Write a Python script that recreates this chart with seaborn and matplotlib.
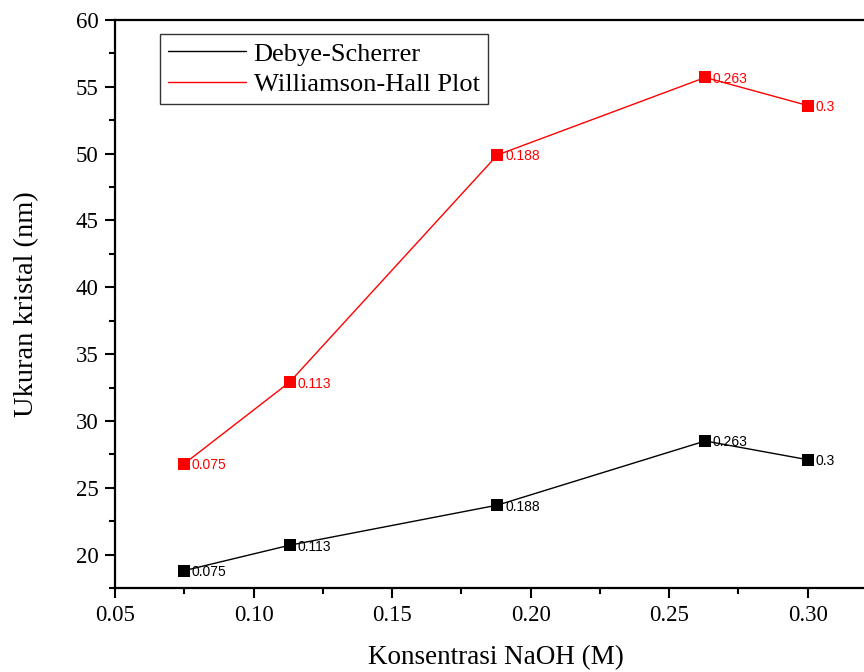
import matplotlib
matplotlib.use("Agg")
import matplotlib.pyplot as plt
import seaborn as sns
import pandas as pd
from matplotlib.ticker import MultipleLocator
from matplotlib.lines import Line2D
from matplotlib.legend_handler import HandlerLine2D

conc = [0.075, 0.113, 0.188, 0.263, 0.3]
conc_labels = ["0.075", "0.113", "0.188", "0.263", "0.3"]
debye = [18.8, 20.7, 23.7, 28.5, 27.1]
wh = [26.8, 32.9, 49.9, 55.7, 53.6]
series = ["Debye-Scherrer", "Williamson-Hall Plot"]
colors = {"Debye-Scherrer": "black", "Williamson-Hall Plot": "#ff0000"}

df = pd.DataFrame({
    "x": conc * 2,
    "y": debye + wh,
    "s": [series[0]] * len(conc) + [series[1]] * len(conc),
})

sns.set_style("ticks")
plt.rcParams["font.family"] = ["Liberation Serif", "DejaVu Serif"]
plt.rcParams["text.color"] = "black"
plt.rcParams["axes.labelcolor"] = "black"
plt.rcParams["xtick.color"] = "black"
plt.rcParams["ytick.color"] = "black"

fig = plt.figure(figsize=(8.64, 6.72), dpi=100)
W, H = 864, 672
ax = fig.add_axes([115 / W, (H - 588) / H, (877 - 115) / W, (588 - 20) / H])

sns.lineplot(data=df, x="x", y="y", hue="s", palette=colors, marker="s",
             markersize=9, markeredgewidth=0, linewidth=1, ax=ax, legend=False)

for sname, vals in [(series[0], debye), (series[1], wh)]:
    for xv, yv, lab in zip(conc, vals, conc_labels):
        ax.annotate(lab, (xv, yv), xytext=(5.5, -1), textcoords="offset points",
                    fontsize=10, color=colors[sname], family=["Liberation Sans"],
                    va="center", ha="left")

ax.set_xlim(0.05, 0.325)
ax.set_ylim(17.5, 60)
ax.xaxis.set_minor_locator(MultipleLocator(0.025))
ax.yaxis.set_major_locator(MultipleLocator(5))
ax.yaxis.set_minor_locator(MultipleLocator(2.5))
ax.set_xticks([0.05, 0.10, 0.15, 0.20, 0.25, 0.30])
ax.set_xticklabels(["0.05", "0.10", "0.15", "0.20", "0.25", "0.30"])
ax.tick_params(which="major", direction="out", length=7, width=1.5, labelsize=16.5, pad=5)
ax.tick_params(which="minor", direction="out", length=4, width=1.5)
ax.tick_params(axis="x", which="major", pad=5)
for sp in ["left", "bottom", "top"]:
    ax.spines[sp].set_linewidth(1.6)
    ax.spines[sp].set_color("black")
ax.spines["right"].set_visible(False)
ax.set_xlabel("Konsentrasi NaOH (M)", fontsize=19.5, labelpad=14)
ax.set_ylabel("Ukuran kristal (nm)", fontsize=20.5, labelpad=26)


class ShortLine(HandlerLine2D):
    def create_artists(self, legend, orig_handle, xdescent, ydescent, width,
                       height, fontsize, trans):
        arts = super().create_artists(legend, orig_handle, xdescent, ydescent,
                                      width, height, fontsize, trans)
        for a in arts:
            xd = a.get_xdata()
            if len(xd) == 2:
                a.set_xdata([xd[0] + (xd[1] - xd[0]) * 0.23, xd[1]])
        return arts


handles = [Line2D([], [], color=colors[s], lw=1) for s in series]
leg = ax.legend(handles, series, loc="upper left", bbox_to_anchor=(0.059, 0.975),
                borderaxespad=0, fontsize=19, frameon=True, fancybox=False,
                edgecolor="black", handlelength=2.95, borderpad=0.3,
                labelspacing=0.28, handletextpad=0.3,
                handler_map={Line2D: ShortLine()})
leg.get_frame().set_linewidth(1)

fig.savefig("out.png", dpi=100)
